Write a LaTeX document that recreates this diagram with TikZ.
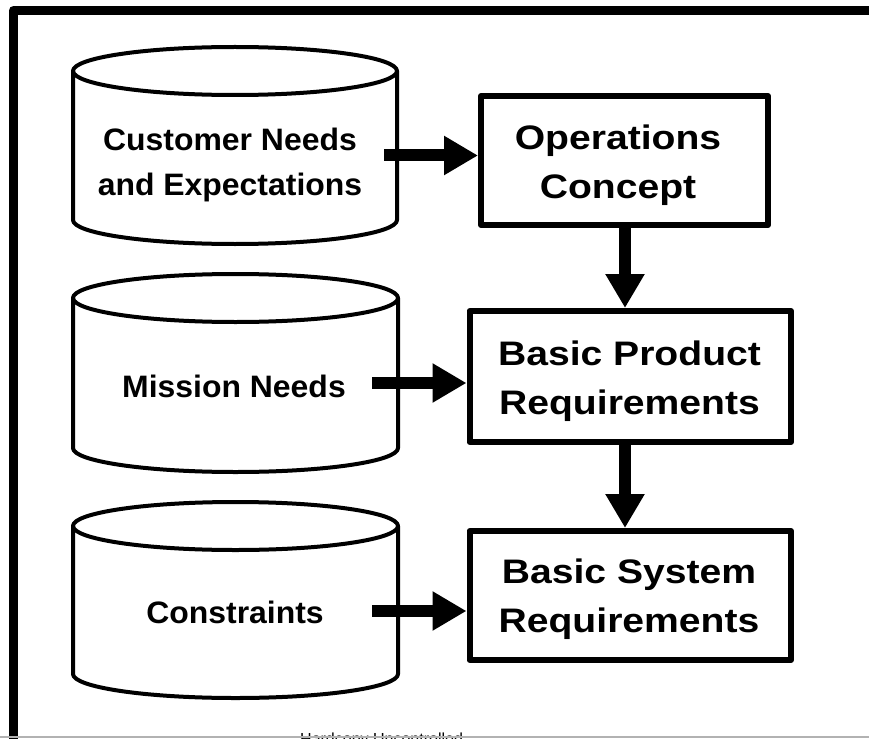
\documentclass[tikz,border=0pt]{standalone}
\usepackage{fontspec}
\setmainfont{Liberation Sans}
\newfontfamily\cylfont[FakeStretch=1.03]{Liberation Sans}
\newfontfamily\boxfont[FakeStretch=1.15]{Liberation Sans}
\usetikzlibrary{arrows.meta}
\begin{document}
\begin{tikzpicture}[x=1pt,y=-1pt,
  cylst/.style={line width=4pt, line join=round},
  boxst/.style={draw, line width=6pt, line join=round, inner sep=0pt},
  cyltext/.style={inner sep=0pt, align=center, font=\cylfont\bfseries\fontsize{31}{45}\selectfont},
  boxtext/.style={inner sep=0pt, align=center, font=\boxfont\bfseries\fontsize{34}{49}\selectfont},
  conn/.style={line width=12pt, -{Triangle[width=37pt,length=34pt]}},
  frame/.style={line width=9pt, line join=round}]
\useasboundingbox (0,0) rectangle (869,738);
\begin{scope}
\clip (0,0) rectangle (869,738);
% outer frame
\draw[frame] (13.5,760) -- (13.5,10.5) -- (890,10.5);
% footer
\node[anchor=base west, inner sep=0pt, font=\fontsize{16}{16}\selectfont] (footer) at (300,744.5) {Hardcopy Uncontrolled};
\draw[black!30, line width=1.5pt] (0,736.8) -- (869,736.8);
\end{scope}

% cylinders
\draw[cylst] (235,71) ellipse [x radius=162pt, y radius=24pt];
\draw[cylst] (73,71) -- (73,220) arc[start angle=180, end angle=360, x radius=162pt, y radius=24pt] -- (397,71);
\node[cyltext] (cust) at (230,165) {Customer Needs\\and Expectations};

\draw[cylst] (235.5,298) ellipse [x radius=162.5pt, y radius=24pt];
\draw[cylst] (73,298) -- (73,448) arc[start angle=180, end angle=360, x radius=162.5pt, y radius=24pt] -- (398,298);
\node[cyltext] (miss) at (234,386.5) {Mission Needs};

\draw[cylst] (235.5,526) ellipse [x radius=162.5pt, y radius=24pt];
\draw[cylst] (73,526) -- (73,674) arc[start angle=180, end angle=360, x radius=162.5pt, y radius=24pt] -- (398,526);
\node[cyltext] (cons) at (235,612.5) {Constraints};

% boxes
\node[boxst, minimum width=287pt, minimum height=129pt] (ops) at (624.5,160.5) {};
\node[boxtext] (opst) at (618,165) {Operations\\Concept};
\node[boxst, minimum width=321.5pt, minimum height=131pt] (bpr) at (630.25,376.5) {};
\node[boxtext] (bprt) at (629.5,381.5) {Basic Product\\Requirements};
\node[boxst, minimum width=321.5pt, minimum height=129pt] (bsr) at (630.25,595.5) {};
\node[boxtext] (bsrt) at (629,598.8) {Basic System\\Requirements};

% connectors
\coordinate (a1) at (384,155.5);
\coordinate (a2) at (372,383);
\coordinate (a3) at (372,611);
\draw[conn] (a1) -- (a1 -| ops.west);
\draw[conn] (a2) -- (a2 -| bpr.west);
\draw[conn] (a3) -- (a3 -| bsr.west);
\draw[conn] ([xshift=0.5pt]ops.south) -- ([xshift=0.5pt]ops.south |- bpr.north);
\draw[conn] ([xshift=0.5pt]ops.south |- bpr.south) -- ([xshift=0.5pt]ops.south |- bsr.north);
\end{tikzpicture}
\end{document}
